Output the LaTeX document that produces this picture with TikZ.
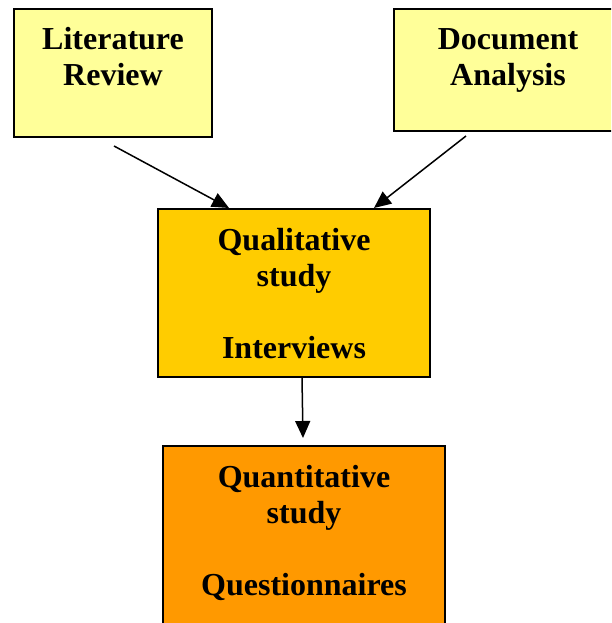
\documentclass[tikz,border=0pt]{standalone}
\usepackage{fontspec}
\setmainfont{Liberation Serif}
\usepackage{xcolor}
\usetikzlibrary{arrows.meta}
\definecolor{pale}{HTML}{FFFF99}
\definecolor{amber}{HTML}{FFCC00}
\definecolor{deeporange}{HTML}{FF9900}
\newcommand{\boxtxt}[3]{\parbox[t][#1][t]{#2}{\centering\rule{0pt}{41pt}#3}}
\tikzset{
  stage/.style={draw=black, line width=2pt, inner sep=0pt, anchor=north west,
    font=\fontsize{32}{36}\selectfont\bfseries},
  arr/.style={draw=black, line width=1.5pt, -{Triangle[length=17pt,width=15pt]}},
}
\begin{document}
\begin{tikzpicture}[x=1pt,y=-1pt]
  \useasboundingbox (0,0) rectangle (611,623);
  \clip (0,0) rectangle (611,623);

  \node[stage,fill=pale] (lit) at (13,8) {\boxtxt{128pt}{198pt}{Literature\\Review}};
  \node[stage,fill=pale] (doc) at (393,8) {\boxtxt{122pt}{228pt}{Document\\Analysis}};
  \node[stage,fill=amber] (qual) at (157,208) {\boxtxt{168pt}{272pt}{Qualitative\\study\\[36pt]Interviews}};
  \node[stage,fill=deeporange] (quant) at (162,445) {\boxtxt{200pt}{282pt}{Quantitative\\study\\[36pt]Questionnaires}};

  \draw[arr] ([shift={(1,8)}]lit.south) -- ([shift={(-65,0)}]qual.north);
  \draw[arr] ([shift={(-42,4)}]doc.south) -- ([shift={(80,0)}]qual.north);
  \draw[arr] ([shift={(8,0)}]qual.south) -- ([shift={(-1,-7)}]quant.north);
\end{tikzpicture}
\end{document}
